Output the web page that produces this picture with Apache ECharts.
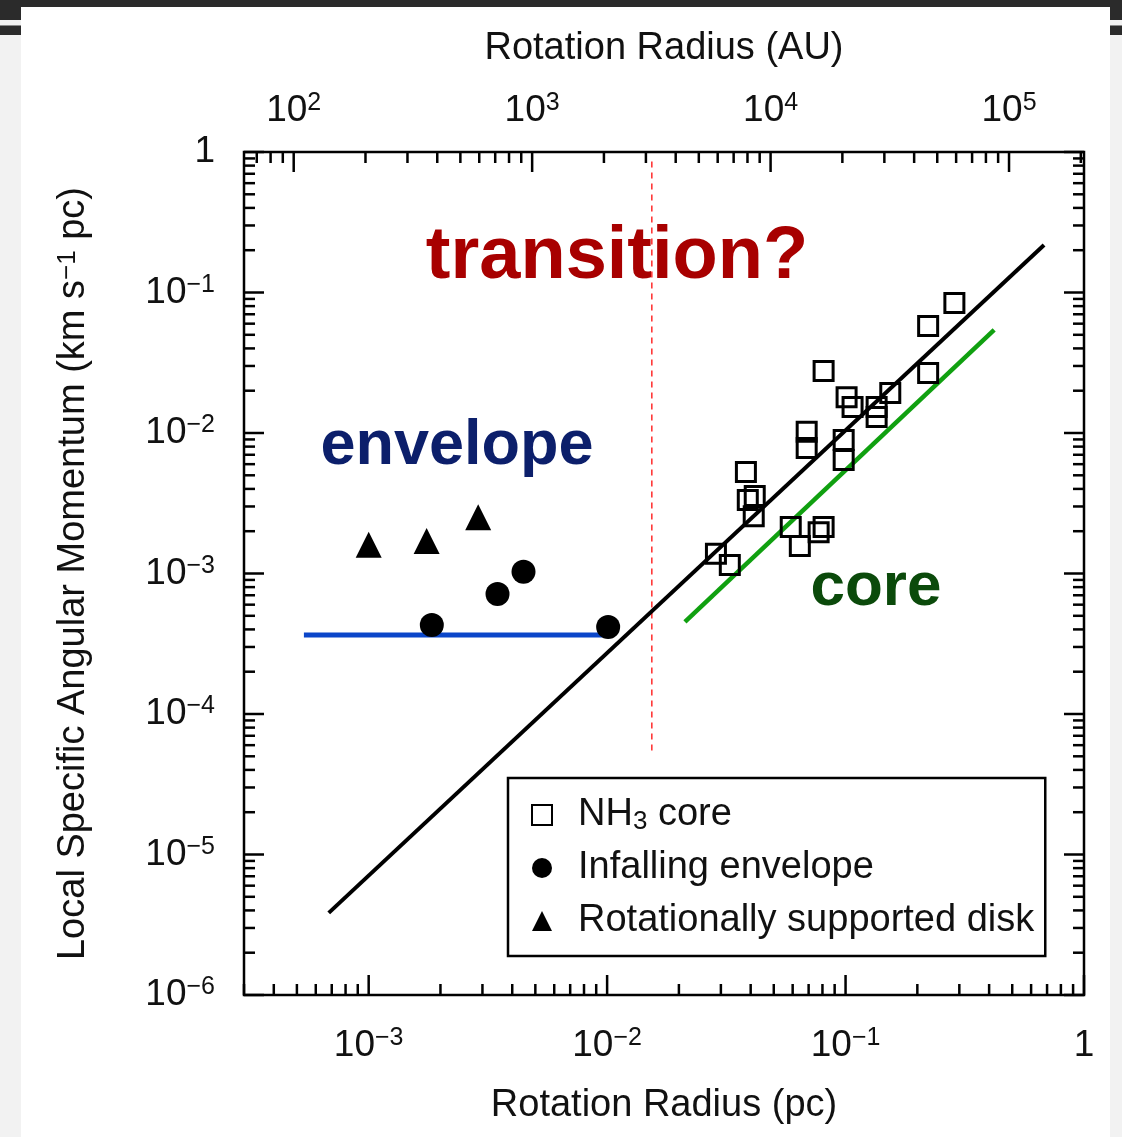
<!DOCTYPE html>
<html>
<head>
<meta charset="utf-8">
<script src="https://cdn.jsdelivr.net/npm/echarts@6/dist/echarts.min.js"></script>
<style>
  html, body { margin: 0; padding: 0; background: #f2f2f2; }
  .deco { position: absolute; }
  #chart { position: absolute; left: 0; top: 0; width: 1122px; height: 1137px; }
</style>
</head>
<body>
<div class="deco" style="left:0;top:0;width:1122px;height:7px;background:#2b2b2b"></div>
<div class="deco" style="left:0;top:0;width:21px;height:20px;background:#2b2b2b"></div>
<div class="deco" style="left:0;top:25px;width:21px;height:1px;background:#8a8a8a"></div>
<div class="deco" style="left:0;top:26px;width:21px;height:9px;background:#2b2b2b"></div>
<div class="deco" style="left:1110px;top:0;width:12px;height:20px;background:#2b2b2b"></div>
<div class="deco" style="left:1110px;top:25px;width:12px;height:1px;background:#8a8a8a"></div>
<div class="deco" style="left:1110px;top:26px;width:12px;height:9px;background:#2b2b2b"></div>
<div class="deco" style="left:21px;top:7px;width:1089px;height:1130px;background:#ffffff"></div>
<div id="chart"></div>
<script>
// Rotation radius R (pc) and local specific angular momentum j (km s^-1 pc)

// NH3 cores
const coreR = [0.286, 0.222, 0.0809, 0.222, 0.101, 0.154, 0.107, 0.135, 0.135, 0.0687,
               0.0687, 0.0982, 0.0982, 0.0382, 0.0416, 0.0389, 0.0412, 0.0589, 0.0643,
               0.0809, 0.0771, 0.0286, 0.0327];
const coreJ = [0.0841, 0.0578, 0.0276, 0.0267, 0.0180, 0.0193, 0.0153, 0.0153, 0.0130, 0.0102,
               0.00781, 0.00891, 0.00643, 0.00527, 0.00356, 0.00333, 0.00256, 0.00214, 0.00157,
               0.00214, 0.00197, 0.00138, 0.00115];

// Infalling envelopes
const envR = [0.00184, 0.00347, 0.00446, 0.0101];
const envJ = [0.00043, 0.000715, 0.00103, 0.000416];

// Rotationally supported disks
const diskR = [0.00100, 0.00175, 0.00288];
const diskJ = [0.00160, 0.00170, 0.00251];

// j ~ R^1.6 relation, core fit, envelope level and transition radius
const fitR = [0.00068, 0.68];
const fitJ = [3.84e-6, 0.218];
const coreFitR = [0.0212, 0.42];
const coreFitJ = [0.000452, 0.0541];
const envLevelR = [0.000535, 0.0096];
const envLevelJ = [0.000365, 0.000365];
const transitionR = [0.0154, 0.0154];
const transitionJ = [5.5e-5, 0.88];

// Axes
const PC_TO_AU = 206265;
const xRangePc = [3e-4, 1];
const yRange = [1e-6, 1];
const pcTickExp = [-3, -2, -1, 0];      // bottom labels: 10^-3 ... 1
const auTickExp = [2, 3, 4, 5];         // top labels: 10^2 ... 10^5
const jTickExp = [0, -1, -2, -3, -4, -5, -6];

const FONT = '"Liberation Sans", Arial, Helvetica, sans-serif';
const INK = '#111111';
const TICK_MAJOR = 20;
const TICK_MINOR = 11;
const TICK_W = 2.5;

function tickLabel(exp) {
  if (exp === 0) return '1';
  return '10{s|' + (exp < 0 ? '\u2212' + (-exp) : String(exp)) + '}';
}

// Tick list for a log range: major ticks at the given decades, minor at 2..9 x 10^k
function logTicks(min, max, majorExps) {
  const out = [];
  const lo = Math.floor(Math.log10(min)), hi = Math.ceil(Math.log10(max));
  for (let k = lo; k <= hi; k++) {
    for (let m = 2; m <= 9; m++) {
      const v = m * Math.pow(10, k);
      if (v >= min * (1 - 1e-9) && v <= max * (1 + 1e-9)) out.push({ v: v, exp: null });
    }
  }
  majorExps.forEach(e => out.push({ v: Math.pow(10, e), exp: e }));
  return out;
}

const labelStyle = {
  fontSize: 37, fontFamily: FONT, fill: INK, lineHeight: 40,
  rich: { s: { fontSize: 25, lineHeight: 14, verticalAlign: 'top', fontFamily: FONT, fill: INK } }
};

const auMin = xRangePc[0] * PC_TO_AU, auMax = xRangePc[1] * PC_TO_AU;
const bottomTickData = logTicks(xRangePc[0], xRangePc[1], pcTickExp)
  .map(t => [t.v, yRange[0], t.exp === null ? NaN : t.exp]);
const topTickData = logTicks(auMin, auMax, auTickExp)
  .map(t => [t.v, yRange[1], t.exp === null ? NaN : t.exp]);
const sideTickData = logTicks(yRange[0], yRange[1], jTickExp)
  .map(t => [xRangePc[0], t.v, t.exp === null ? NaN : t.exp]);

function tickLine(x1, y1, x2, y2) {
  return { type: 'line', shape: { x1, y1, x2, y2 }, style: { stroke: '#000', lineWidth: TICK_W } };
}

function renderBottom(params, api) {
  const cs = params.coordSys;
  const x = api.coord([api.value(0), yRange[0]])[0];
  const y0 = cs.y + cs.height;
  const exp = api.value(2);
  const major = !isNaN(exp);
  const children = [tickLine(x, y0, x, y0 - (major ? TICK_MAJOR : TICK_MINOR))];
  if (major) {
    children.push({ type: 'text', x: x, y: y0 + 51,
      style: Object.assign({ text: tickLabel(exp), align: 'center', verticalAlign: 'middle' }, labelStyle) });
  }
  return { type: 'group', children };
}

function renderTop(params, api) {
  const cs = params.coordSys;
  const x = api.coord([api.value(0), yRange[1]])[0];
  const y0 = cs.y;
  const exp = api.value(2);
  const major = !isNaN(exp);
  const children = [tickLine(x, y0, x, y0 + (major ? TICK_MAJOR : TICK_MINOR))];
  if (major) {
    children.push({ type: 'text', x: x, y: y0 - 41,
      style: Object.assign({ text: tickLabel(exp), align: 'center', verticalAlign: 'middle' }, labelStyle) });
  }
  return { type: 'group', children };
}

function renderSides(params, api) {
  const cs = params.coordSys;
  const y = api.coord([xRangePc[0], api.value(1)])[1];
  const xl = cs.x, xr = cs.x + cs.width;
  const exp = api.value(2);
  const major = !isNaN(exp);
  const len = major ? TICK_MAJOR : TICK_MINOR;
  const children = [tickLine(xl, y, xl + len, y), tickLine(xr, y, xr - len, y)];
  if (major) {
    children.push({ type: 'text', x: xl - 29, y: y,
      style: Object.assign({ text: tickLabel(exp), align: 'right', verticalAlign: 'middle' }, labelStyle) });
  }
  return { type: 'group', children };
}

const pairs = (xs, ys) => xs.map((x, i) => [x, ys[i]]);
const nameStyle = { fontSize: 38, fontFamily: FONT, color: INK };

const chart = echarts.init(document.getElementById('chart'), null, { renderer: 'canvas' });
chart.setOption({
  backgroundColor: 'transparent',
  animation: false,
  grid: { left: 244, top: 152, width: 840, height: 843, show: true,
          borderColor: '#000', borderWidth: 2.5, backgroundColor: 'transparent' },
  xAxis: [
    { type: 'log', logBase: 10, min: xRangePc[0], max: xRangePc[1], position: 'bottom',
      name: 'Rotation Radius (pc)', nameLocation: 'middle', nameGap: 92, nameTextStyle: nameStyle,
      axisLine: { show: false }, axisTick: { show: false }, axisLabel: { show: false }, splitLine: { show: false } },
    { type: 'log', logBase: 10, min: auMin, max: auMax, position: 'top',
      name: 'Rotation Radius (AU)', nameLocation: 'middle', nameGap: 84, nameTextStyle: nameStyle,
      axisLine: { show: false }, axisTick: { show: false }, axisLabel: { show: false }, splitLine: { show: false } }
  ],
  yAxis: [
    { type: 'log', logBase: 10, min: yRange[0], max: yRange[1],
      name: 'Local Specific Angular Momentum (km s{s|\u22121} pc)', nameLocation: 'middle', nameGap: 151,
      nameTextStyle: Object.assign({}, nameStyle, {
        rich: { s: { fontSize: 26, lineHeight: 18, verticalAlign: 'top', fontFamily: FONT, color: INK } } }),
      axisLine: { show: false }, axisTick: { show: false }, axisLabel: { show: false }, splitLine: { show: false } }
  ],
  legend: {
    data: ['NH3 core', 'Infalling envelope', 'Rotationally supported disk'],
    orient: 'vertical', left: 508, top: 778,
    borderColor: '#000', borderWidth: 2.5, padding: [17, 11, 15, 23],
    itemWidth: 20, itemHeight: 20, itemGap: 13, selectedMode: false,
    formatter: name => name === 'NH3 core' ? 'NH{sub|3} core' : name,
    textStyle: {
      fontSize: 38, fontFamily: FONT, color: INK, lineHeight: 40, padding: [0, 0, 0, 21],
      rich: { sub: { fontSize: 26, lineHeight: 14, verticalAlign: 'bottom', fontFamily: FONT, color: INK } }
    }
  },
  graphic: [
    { type: 'text', x: 617, y: 258, z: 10,
      style: { text: 'transition?', font: 'bold 74px ' + FONT, fill: '#a80000', align: 'center', verticalAlign: 'middle' } },
    { type: 'text', x: 457, y: 447, z: 10,
      style: { text: 'envelope', font: 'bold 63px ' + FONT, fill: '#0c1f6b', align: 'center', verticalAlign: 'middle' } },
    { type: 'text', x: 876, y: 588, z: 10,
      style: { text: 'core', font: 'bold 62px ' + FONT, fill: '#0b4a0b', align: 'center', verticalAlign: 'middle' } }
  ],
  series: [
    { type: 'custom', name: 'pcTicks', xAxisIndex: 0, yAxisIndex: 0, silent: true, clip: false, z: 6,
      encode: { x: 0, y: 1 }, renderItem: renderBottom, data: bottomTickData },
    { type: 'custom', name: 'auTicks', xAxisIndex: 1, yAxisIndex: 0, silent: true, clip: false, z: 6,
      encode: { x: 0, y: 1 }, renderItem: renderTop, data: topTickData },
    { type: 'custom', name: 'jTicks', xAxisIndex: 0, yAxisIndex: 0, silent: true, clip: false, z: 6,
      encode: { x: 0, y: 1 }, renderItem: renderSides, data: sideTickData },
    { type: 'line', name: 'transition', data: pairs(transitionR, transitionJ), symbol: 'none',
      lineStyle: { color: '#ff2a2a', width: 1.5, type: [6, 5] }, z: 2 },
    { type: 'line', name: 'fit', data: pairs(fitR, fitJ), symbol: 'none',
      lineStyle: { color: '#000', width: 4 }, z: 3 },
    { type: 'line', name: 'coreFit', data: pairs(coreFitR, coreFitJ), symbol: 'none',
      lineStyle: { color: '#10a010', width: 4.5 }, z: 3 },
    { type: 'line', name: 'envelopeLevel', data: pairs(envLevelR, envLevelJ), symbol: 'none',
      lineStyle: { color: '#0b46c9', width: 5 }, z: 3 },
    { type: 'scatter', name: 'NH3 core', data: pairs(coreR, coreJ), symbol: 'rect', symbolSize: 19,
      itemStyle: { color: 'rgba(255,255,255,0)', borderColor: '#000', borderWidth: 3, opacity: 1 }, z: 4 },
    { type: 'scatter', name: 'Infalling envelope', data: pairs(envR, envJ), symbol: 'circle', symbolSize: 24,
      itemStyle: { color: '#000', opacity: 1 }, z: 4 },
    { type: 'scatter', name: 'Rotationally supported disk', data: pairs(diskR, diskJ), symbol: 'triangle',
      symbolSize: [26, 26], itemStyle: { color: '#000', opacity: 1 }, z: 4 }
  ]
});
</script>
</body>
</html>
